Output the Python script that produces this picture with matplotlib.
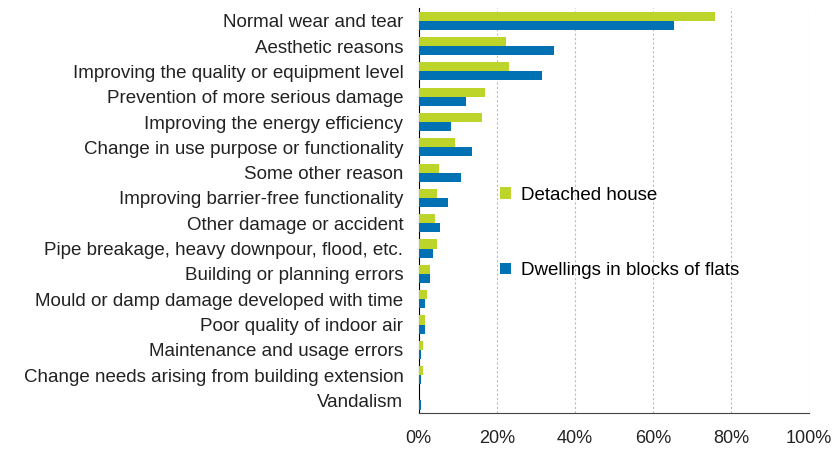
import numpy as np
import matplotlib.pyplot as plt
from matplotlib.ticker import PercentFormatter

plt.rcParams['font.family'] = ['Liberation Sans', 'DejaVu Sans']

categories = [
    "Normal wear and tear",
    "Aesthetic reasons",
    "Improving the quality or equipment level",
    "Prevention of more serious damage",
    "Improving the energy efficiency",
    "Change in use purpose or functionality",
    "Some other reason",
    "Improving barrier-free functionality",
    "Other damage or accident",
    "Pipe breakage, heavy downpour, flood, etc.",
    "Building or planning errors",
    "Mould or damp damage developed with time",
    "Poor quality of indoor air",
    "Maintenance and usage errors",
    "Change needs arising from building extension",
    "Vandalism",
]
detached = [75.8, 22.4, 23.2, 17.0, 16.2, 9.2, 5.1, 4.7, 4.2, 4.7, 2.9, 2.2, 1.7, 1.0, 1.0, 0.1]
flats = [65.5, 34.7, 31.7, 12.0, 8.3, 13.7, 10.8, 7.6, 5.5, 3.8, 3.0, 1.7, 1.7, 0.5, 0.5, 0.5]

green = "#bdd42a"
blue = "#0071b3"

fig = plt.figure(figsize=(8.34, 4.5), dpi=100)
ax = fig.add_axes([0.502, 0.082, 0.468, 0.900])

y = np.arange(len(categories))
h = 0.36
ax.barh(y - h / 2, detached, height=h, color=green, label="Detached house", zorder=3)
ax.barh(y + h / 2, flats, height=h, color=blue, label="Dwellings in blocks of flats", zorder=3)

ax.set_yticks(y)
ax.set_yticklabels(categories, fontsize=13.5, color="#222222")
ax.set_ylim(len(categories) - 0.5, -0.5)
ax.set_xlim(0, 100)
ax.set_xticks(np.arange(0, 101, 20))
ax.xaxis.set_major_formatter(PercentFormatter(decimals=0))
ax.tick_params(axis='x', labelsize=13, colors="#222222", length=0, pad=12)
ax.tick_params(axis='y', length=0, pad=11)

ax.grid(axis='x', color="#bbbbbb", linestyle=(0, (2, 2)), linewidth=0.8, zorder=0)
for s in ["top", "right"]:
    ax.spines[s].set_visible(False)
ax.spines["left"].set_color("black")
ax.spines["bottom"].set_color("#444444")

ax.legend(loc="upper left", bbox_to_anchor=(0.165, 0.60), frameon=False,
          fontsize=13.5, labelspacing=3.1, handlelength=0.6, handleheight=0.6,
          handletextpad=0.5)

plt.savefig("out.png", dpi=100)
